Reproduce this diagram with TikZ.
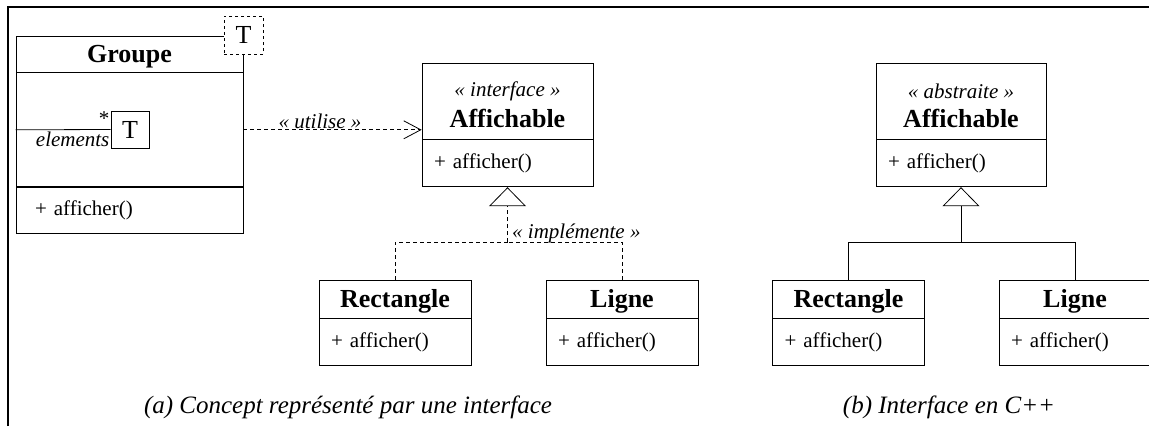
\documentclass[tikz,border=0pt]{standalone}
\usepackage{fontspec}
\setmainfont{Liberation Serif}
\usetikzlibrary{arrows.meta,positioning}

\newcommand{\clsfont}{\fontsize{26}{30}\selectfont\bfseries}
\newcommand{\opfont}{\fontsize{21}{25}\selectfont\mdseries}
\newcommand{\stfont}{\fontsize{21}{25}\selectfont\mdseries\itshape}

\begin{document}
\begin{tikzpicture}[x=1pt, y=-1pt,
  cls/.style={draw, line width=0.8pt, inner sep=0pt, minimum width=#1, minimum height=38pt, text height=17pt, text depth=0pt, font=\clsfont},
  ops/.style={draw, line width=0.8pt, inner xsep=12pt, inner ysep=0pt, text width=#1, minimum height=47pt, font=\opfont, align=left},
  tbox/.style={draw, line width=0.8pt, inner sep=0pt, minimum width=38pt, minimum height=37pt, font=\fontsize{26}{30}\selectfont},
  dep/.style={line width=0.8pt, dash pattern=on 4pt off 3pt},
  inh/.style={line width=0.8pt, -{Triangle[open, length=19pt, width=37pt]}},
  lbl/.style={font=\stfont, inner sep=1pt},
  caption/.style={font=\fontsize{25}{30}\selectfont\itshape}
]
  \useasboundingbox (0,0) rectangle (1149,426);
  \draw[line width=2.5pt] (8,426) -- (8,7) -- (1149,7);

  % (a) concept as interface
  \node[cls=227pt, minimum height=36pt] (g) at (129.5,54) {Groupe};
  \node[draw, line width=0.8pt, minimum width=227pt, minimum height=114pt, anchor=north] (gatt) at (g.south) {};
  \node[ops=189pt, inner xsep=19pt, minimum height=46pt, anchor=north] (gops) at (gatt.south) {+ afficher()};
  \node[tbox, dashed, fill=white, minimum width=39pt, minimum height=38pt] (tp) at (243.5,35) {T};
  \node[tbox] (t) at (130,129.5) {T};
  \draw[line width=0.8pt] (gatt.west) -- (t.west);
  \node[font=\opfont, anchor=south east, inner sep=1pt] at ([yshift=3pt]t.west) {*};
  \node[font=\stfont, anchor=north east, inner sep=1pt] at ([yshift=-1pt]t.west) {elements};

  \node[cls=171pt, minimum height=76pt] (ifc) at (507.5,101) {};
  \node[lbl] (ifcst) at (507.5,91) {« interface »};
  \node[font=\clsfont, inner sep=0pt, text height=17pt, text depth=0pt] (ifcname) at (507.5,119) {Affichable};
  \node[ops=147pt, anchor=north] (ifcops) at (ifc.south) {+ afficher()};

  \node[cls=152pt] (recta) at (395,299) {Rectangle};
  \node[ops=128pt, anchor=north] (rectaops) at (recta.south) {+ afficher()};
  \node[cls=152pt] (lignea) at (622,299) {Ligne};
  \node[ops=128pt, anchor=north] (ligneaops) at (lignea.south) {+ afficher()};

  \draw[dep, -{Straight Barb[length=17pt, width=18pt]}] (gatt.east) -- node[lbl, above, pos=0.43] {« utilise »} (gatt.east -| ifc.west);

  \coordinate (ja) at (507.5,242);
  \draw[dep] (recta.north) |- (ja);
  \draw[dep] (lignea.north) |- (ja);
  \draw[dep, inh] (ja) -- (ifcops.south);
  \node[lbl, anchor=base west] at (511,238) {« implémente »};

  % (b) interface in C++
  \node[cls=170pt, minimum height=76pt] (abs) at (961,101) {};
  \node[lbl] (absst) at (961,91) {« abstraite »};
  \node[font=\clsfont, inner sep=0pt, text height=17pt, text depth=0pt] (absname) at (961,119) {Affichable};
  \node[ops=146pt, anchor=north] (absops) at (abs.south) {+ afficher()};

  \node[cls=152pt] (rectb) at (848.5,299) {Rectangle};
  \node[ops=128pt, anchor=north] (rectbops) at (rectb.south) {+ afficher()};
  \node[cls=152pt] (ligneb) at (1075,299) {Ligne};
  \node[ops=128pt, anchor=north] (lignebops) at (ligneb.south) {+ afficher()};

  \coordinate (jb) at (961,242);
  \draw[line width=0.8pt] (rectb.north) |- (jb);
  \draw[line width=0.8pt] (ligneb.north) |- (jb);
  \draw[inh] (jb) -- (absops.south);

  \node[caption] (capa) at (348,407) {(a) Concept représenté par une interface};
  \node[caption] (capb) at (949,407) {(b) Interface en C++};
\end{tikzpicture}
\end{document}
